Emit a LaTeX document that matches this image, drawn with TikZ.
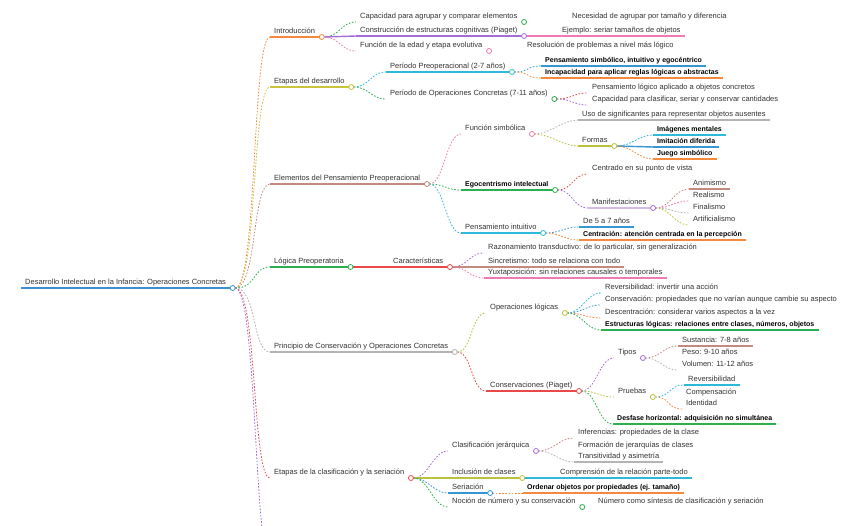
\documentclass[tikz,border=0pt]{standalone}
\usepackage{fontspec}
\setmainfont{Liberation Sans}
\definecolor{orangeC}{HTML}{F5893D}
\definecolor{yellowC}{HTML}{C9C43A}
\definecolor{brownC}{HTML}{C48A80}
\definecolor{greenC}{HTML}{2EAF4F}
\definecolor{grayC}{HTML}{B4B4B4}
\definecolor{redC}{HTML}{E84A4A}
\definecolor{purpleC}{HTML}{A56CD6}
\definecolor{pinkC}{HTML}{EE7BB5}
\definecolor{cyanC}{HTML}{2DBAD8}
\definecolor{blueC}{HTML}{3597D3}
\definecolor{lpurpleC}{HTML}{D3B8E8}
\definecolor{rootC}{HTML}{3D8FD1}
\definecolor{oliveC}{HTML}{BCC23C}
\definecolor{txtC}{HTML}{333333}
\newcommand\mmfs{\fontsize{7.5}{9}\selectfont}
\newcommand\mmfb{\fontsize{7}{8.5}\selectfont\bfseries}
\tikzset{
  mmt/.style={font=\mmfs, text=txtC, inner xsep=4pt, inner ysep=1.2pt, text height=5.5pt, text depth=1.7pt, anchor=west},
  mmb/.style={mmt, font=\mmfb, text=black},
  ulst/.style={line width=1.4pt, draw=#1},
  mmconn/.style={line width=0.8pt, draw=#1, dash pattern=on 1.6pt off 1.6pt},
  mmsolid/.style={line width=1.4pt, draw=#1},
  mmdotst/.style={line width=0.8pt, draw=#1, fill=white},
}
\newcommand\mmnode[5][mmt]{\node[#1] (#2) at ({#3-4},#4) {#5};}
\newcommand\mmul[2]{\draw[ulst=#2] (#1.south west) -- (#1.south east);}
\newcommand\mmcon[3]{\draw[mmconn=#3] ([xshift=5pt]#1.south east) .. controls +(15,0) and +(-15,0) .. (#2.south west);}
\newcommand\mmsol[3]{\draw[mmsolid=#3] ([xshift=5pt]#1.south east) -- (#2.south west);}
\newcommand\mmdot[2]{\draw[mmdotst=#2] ([xshift=2.5pt]#1.south east) circle (2.5pt);}
\begin{document}
\begin{tikzpicture}[x=1pt,y=-1pt]
\useasboundingbox (0,0) rectangle (848,526);
\fill[white] (0,0) rectangle (848,526);
\clip (0,0) rectangle (848,526);
% ---------- nodes ----------
\mmnode{R}{25}{283}{Desarrollo Intelectual en la Infancia: Operaciones Concretas}
\mmnode{A}{274}{32}{Introducción}
\mmnode{B}{274}{82}{Etapas del desarrollo}
\mmnode{C}{274}{179}{Elementos del Pensamiento Preoperacional}
\mmnode{D}{274}{262}{Lógica Preoperatoria}
\mmnode{E}{274}{347}{Principio de Conservación y Operaciones Concretas}
\mmnode{F}{274}{473}{Etapas de la clasificación y la seriación}
\coordinate (G) at (272,570);
% Introduccion
\mmnode{A1}{360}{17}{Capacidad para agrupar y comparar elementos}
\mmnode{A1a}{572}{17}{Necesidad de agrupar por tamaño y diferencia}
\mmnode{A2}{360}{31}{Construcción de estructuras cognitivas (Piaget)}
\mmnode{A2a}{562}{31}{Ejemplo: seriar tamaños de objetos}
\mmnode{A3}{360}{46}{Función de la edad y etapa evolutiva}
\mmnode{A3a}{527}{46}{Resolución de problemas a nivel más lógico}
% Etapas
\mmnode{B1}{390}{67}{Período Preoperacional (2-7 años)}
\mmnode[mmb]{B1a}{545}{61}{Pensamiento simbólico, intuitivo y egocéntrico}
\mmnode[mmb]{B1b}{545}{73}{Incapacidad para aplicar reglas lógicas o abstractas}
\mmnode{B2}{390}{94}{Período de Operaciones Concretas (7-11 años)}
\mmnode{B2a}{592}{88}{Pensamiento lógico aplicado a objetos concretos}
\mmnode{B2b}{592}{100}{Capacidad para clasificar, seriar y conservar cantidades}
% Pensamiento preoperacional
\mmnode{C1}{465}{129}{Función simbólica}
\mmnode{C1a}{582}{115}{Uso de significantes para representar objetos ausentes}
\mmnode{C1b}{582}{141}{Formas}
\mmnode[mmb]{C1b1}{657}{130}{Imágenes mentales}
\mmnode[mmb]{C1b2}{657}{142}{Imitación diferida}
\mmnode[mmb]{C1b3}{657}{154}{Juego simbólico}
\mmnode[mmb]{C2}{465}{185}{Egocentrismo intelectual}
\mmnode{C2a}{592}{169}{Centrado en su punto de vista}
\mmnode{C2b}{592}{203}{Manifestaciones}
\mmnode{C2b1}{693}{184}{Animismo}
\mmnode{C2b2}{693}{196}{Realismo}
\mmnode{C2b3}{693}{208}{Finalismo}
\mmnode{C2b4}{693}{220}{Artificialismo}
\mmnode{C3}{465}{228}{Pensamiento intuitivo}
\mmnode{C3a}{583}{222}{De 5 a 7 años}
\mmnode[mmb]{C3b}{583}{235}{Centración: atención centrada en la percepción}
% Logica
\mmnode{D1}{393}{262}{Características}
\mmnode{D1a}{488}{248}{Razonamiento transductivo: de lo particular, sin generalización}
\mmnode{D1b}{488}{262}{Sincretismo: todo se relaciona con todo}
\mmnode{D1c}{488}{273}{Yuxtaposición: sin relaciones causales o temporales}
% Conservacion
\mmnode{E1}{490}{308}{Operaciones lógicas}
\mmnode{E1a}{605}{288}{Reversibilidad: invertir una acción}
\mmnode{E1b}{605}{300}{Conservación: propiedades que no varían aunque cambie su aspecto}
\mmnode{E1c}{605}{313}{Descentración: considerar varios aspectos a la vez}
\mmnode[mmb]{E1d}{605}{325}{Estructuras lógicas: relaciones entre clases, números, objetos}
\mmnode{E2}{490}{386}{Conservaciones (Piaget)}
\mmnode{E2a}{618}{353}{Tipos}
\mmnode{E2a1}{682}{341}{Sustancia: 7-8 años}
\mmnode{E2a2}{682}{353}{Peso: 9-10 años}
\mmnode{E2a3}{682}{365}{Volumen: 11-12 años}
\mmnode{E2b}{618}{392}{Pruebas}
\mmnode{E2b1}{688}{380}{Reversibilidad}
\mmnode{E2b2}{686}{393}{Compensación}
\mmnode{E2b3}{686}{404}{Identidad}
\mmnode[mmb]{E2c}{617}{419}{Desfase horizontal: adquisición no simultánea}
% Clasificacion
\mmnode{F1}{452}{446}{Clasificación jerárquica}
\mmnode{F1a}{578}{433}{Inferencias: propiedades de la clase}
\mmnode{F1b}{578}{446}{Formación de jerarquías de clases}
\mmnode{F1c}{578}{457}{Transitividad y asimetría}
\mmnode{F2}{452}{473}{Inclusión de clases}
\mmnode{F2a}{560}{473}{Comprensión de la relación parte-todo}
\mmnode{F3}{452}{488}{Seriación}
\mmnode[mmb]{F3a}{527}{488}{Ordenar objetos por propiedades (ej. tamaño)}
\mmnode{F4}{452}{502}{Noción de número y su conservación}
\mmnode{F4a}{598}{502}{Número como síntesis de clasificación y seriación}
% ---------- underlines ----------
\mmul{R}{rootC}
\mmul{A}{orangeC}\mmul{B}{yellowC}\mmul{C}{brownC}\mmul{D}{greenC}\mmul{E}{grayC}
\mmul{A2}{purpleC}\mmul{A2a}{pinkC}
\mmul{B1}{cyanC}\mmul{B1a}{blueC}\mmul{B1b}{orangeC}
\mmul{C1a}{grayC}\mmul{C1b}{oliveC}\mmul{C1b1}{cyanC}\mmul{C1b2}{blueC}\mmul{C1b3}{orangeC}
\mmul{C2}{greenC}\mmul{C2b}{lpurpleC}\mmul{C2b1}{brownC}
\mmul{C3}{cyanC}\mmul{C3a}{blueC}\mmul{C3b}{orangeC}
\mmul{D1}{redC}\mmul{D1b}{brownC}\mmul{D1c}{pinkC}
\mmul{E1d}{greenC}\mmul{E2}{redC}\mmul{E2a1}{brownC}\mmul{E2b1}{cyanC}\mmul{E2c}{greenC}
\mmul{F1c}{grayC}\mmul{F2}{oliveC}\mmul{F2a}{cyanC}\mmul{F3}{blueC}\mmul{F3a}{orangeC}
% ---------- root connectors ----------
\draw[mmconn=orangeC] ([xshift=5pt]R.south east) .. controls +(22,0) and +(-18,0) .. (A.south west);
\draw[mmconn=yellowC] ([xshift=5pt]R.south east) .. controls +(22,0) and +(-18,0) .. (B.south west);
\draw[mmconn=brownC] ([xshift=5pt]R.south east) .. controls +(22,0) and +(-18,0) .. (C.south west);
\draw[mmconn=greenC] ([xshift=5pt]R.south east) .. controls +(22,0) and +(-18,0) .. (D.south west);
\draw[mmconn=grayC] ([xshift=5pt]R.south east) .. controls +(22,0) and +(-18,0) .. (E.south west);
\draw[mmconn=redC] ([xshift=5pt]R.south east) .. controls +(22,0) and +(-18,0) .. (F.south west);
\draw[mmconn=purpleC] ([xshift=5pt]R.south east) .. controls +(22,0) and +(-18,0) .. (G);
% ---------- connectors ----------
\mmcon{A}{A1}{greenC}\mmsol{A}{A2}{purpleC}\mmcon{A}{A3}{pinkC}
\mmsol{A2}{A2a}{pinkC}
\mmcon{B}{B1}{cyanC}\mmcon{B}{B2}{greenC}
\mmcon{B1}{B1a}{blueC}\mmcon{B1}{B1b}{orangeC}
\mmcon{B2}{B2a}{redC}\mmcon{B2}{B2b}{purpleC}
\mmcon{C}{C1}{pinkC}\mmcon{C}{C2}{greenC}\mmcon{C}{C3}{cyanC}
\mmcon{C1}{C1a}{grayC}\mmcon{C1}{C1b}{oliveC}
\mmcon{C1b}{C1b1}{cyanC}\mmsol{C1b}{C1b2}{blueC}\mmcon{C1b}{C1b3}{orangeC}
\mmcon{C2}{C2a}{redC}\mmcon{C2}{C2b}{purpleC}
\mmcon{C2b}{C2b1}{brownC}\mmcon{C2b}{C2b2}{pinkC}\mmcon{C2b}{C2b3}{grayC}\mmcon{C2b}{C2b4}{oliveC}
\mmcon{C3}{C3a}{blueC}\mmcon{C3}{C3b}{orangeC}
\mmsol{D}{D1}{redC}
\mmcon{D1}{D1a}{purpleC}\mmsol{D1}{D1b}{brownC}\mmcon{D1}{D1c}{pinkC}
\mmcon{E}{E1}{oliveC}\mmcon{E}{E2}{redC}
\mmcon{E1}{E1a}{cyanC}\mmcon{E1}{E1b}{blueC}\mmcon{E1}{E1c}{orangeC}\mmcon{E1}{E1d}{greenC}
\mmcon{E2}{E2a}{purpleC}\mmcon{E2}{E2b}{oliveC}\mmcon{E2}{E2c}{greenC}
\mmcon{E2a}{E2a1}{brownC}\mmcon{E2a}{E2a3}{grayC}
\mmcon{E2b}{E2b1}{cyanC}\mmcon{E2b}{E2b3}{orangeC}
\mmcon{F}{F1}{purpleC}\mmsol{F}{F2}{oliveC}\mmcon{F}{F3}{blueC}\mmcon{F}{F4}{greenC}
\mmcon{F1}{F1a}{brownC}\mmcon{F1}{F1c}{grayC}
\mmsol{F2}{F2a}{cyanC}
\mmcon{F3}{F3a}{orangeC}
% ---------- circles ----------
\mmdot{R}{rootC}
\mmdot{A}{orangeC}\mmdot{B}{yellowC}\mmdot{C}{brownC}\mmdot{D}{greenC}\mmdot{E}{grayC}\mmdot{F}{redC}
\mmdot{A1}{greenC}\mmdot{A2}{purpleC}\mmdot{A3}{pinkC}
\mmdot{B1}{cyanC}\mmdot{B2}{greenC}
\mmdot{C1}{pinkC}\mmdot{C1b}{oliveC}\mmdot{C2}{greenC}\mmdot{C2b}{purpleC}\mmdot{C3}{cyanC}
\mmdot{D1}{redC}
\mmdot{E1}{oliveC}\mmdot{E2}{redC}\mmdot{E2a}{purpleC}\mmdot{E2b}{oliveC}
\mmdot{F1}{purpleC}\mmdot{F2}{oliveC}\mmdot{F3}{blueC}\mmdot{F4}{greenC}
\end{tikzpicture}
\end{document}
